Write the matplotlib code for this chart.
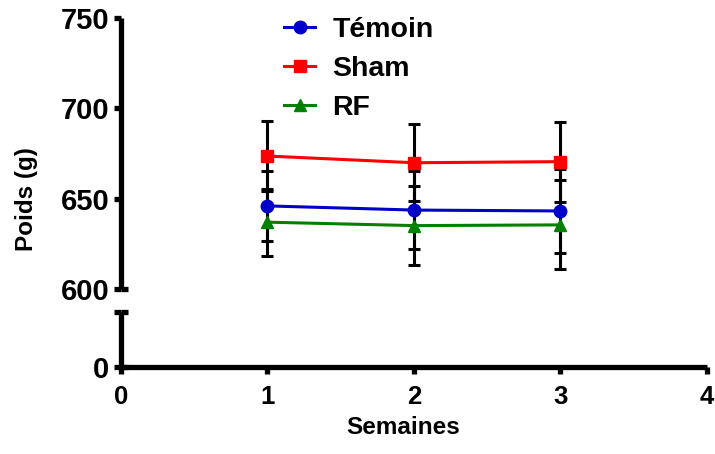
#!/usr/bin/env python3
"""Poids (g) par semaine, axe y coupé (style Prism)."""

import matplotlib

matplotlib.use("Agg")
import matplotlib.pyplot as plt
from matplotlib.lines import Line2D

plt.rcParams["font.family"] = ["Liberation Sans", "DejaVu Sans"]
plt.rcParams["font.weight"] = "bold"

weeks = [1, 2, 3]
groups = ["Témoin", "Sham", "RF"]
temoin_mean = [646.0, 643.7, 643.2]
temoin_err = [19.5, 21.5, 23.0]
sham_mean = [673.6, 669.9, 670.5]
sham_err = [19.5, 21.3, 22.2]
rf_mean = [637.0, 635.1, 635.5]
rf_err = [18.6, 21.9, 24.6]

x_ticks = [0, 1, 2, 3, 4]
upper_ticks = [600, 650, 700, 750]
lower_ticks = [0, 50]

colors = ["#0000C8", "#FF0000", "#008000"]
markers = ["o", "s", "^"]

SPINE_W = 3.8
TICK_LEN = 5

fig = plt.figure(figsize=(7.15, 4.54), dpi=100)
ax_top = fig.add_axes([0.1692, 0.3634, 0.8196, 0.5969])
ax_bot = fig.add_axes([0.1692, 0.1916, 0.8196, 0.1211])

series = [
    (temoin_mean, temoin_err),
    (sham_mean, sham_err),
    (rf_mean, rf_err),
]

for mean, err in series:
    ax_top.errorbar(weeks, mean, yerr=err, fmt="none", ecolor="black",
                    elinewidth=2.2, capsize=4.5, capthick=2.2, zorder=2)
for (mean, err), color, marker in zip(series, colors, markers):
    ax_top.plot(weeks, mean, color=color, marker=marker, markersize=9,
                linewidth=2.2, zorder=3, clip_on=False)

for ax in (ax_top, ax_bot):
    ax.set_xlim(0, 4)
    ax.spines["top"].set_visible(False)
    ax.spines["right"].set_visible(False)
    for side in ("left", "bottom"):
        ax.spines[side].set_linewidth(SPINE_W)
        ax.spines[side].set_capstyle("butt")
    ax.tick_params(width=SPINE_W, length=TICK_LEN, direction="out")
    ax.yaxis.remove_overlapping_locs = False

ax_top.set_ylim(600, 750)
ax_top.set_yticks(upper_ticks)
ax_top.set_yticks([600], minor=True)
ax_top.tick_params(axis="y", labelsize=21)
ax_top.spines["bottom"].set_visible(False)
ax_top.set_xticks([])

ax_bot.set_ylim(lower_ticks[0], lower_ticks[-1])
ax_bot.set_yticks(lower_ticks)
ax_bot.set_yticklabels(["0", ""])
ax_bot.set_yticks(lower_ticks, minor=True)
ax_bot.tick_params(axis="y", labelsize=21)
ax_bot.set_xticks(x_ticks)
ax_bot.tick_params(axis="x", labelsize=18.5, pad=8)

# break caps: short ticks pointing inward at the ends of each segment
for ax in (ax_top, ax_bot):
    ax.tick_params(axis="y", which="minor", direction="in", length=TICK_LEN,
                   width=SPINE_W)

fig.text(403 / 715, 1 - 427 / 454, "Semaines", fontsize=17.5, fontweight="bold",
         ha="center", va="center")
fig.text(27 / 715, 1 - 199 / 454, "Poids (g)", fontsize=17.5, fontweight="bold",
         ha="center", va="center", rotation=90)

handles = [
    Line2D([], [], color=c, marker=m, markersize=9, linewidth=2.2)
    for c, m in zip(colors, markers)
]
fig.legend(handles, groups, loc="upper left", bbox_to_anchor=(284 / 715, 1 - 17 / 454),
           frameon=False, fontsize=20.5, handlelength=1.1, handletextpad=0.6,
           labelspacing=0.45, borderpad=0, borderaxespad=0)

fig.savefig("out.png", dpi=100)
plt.close(fig)
